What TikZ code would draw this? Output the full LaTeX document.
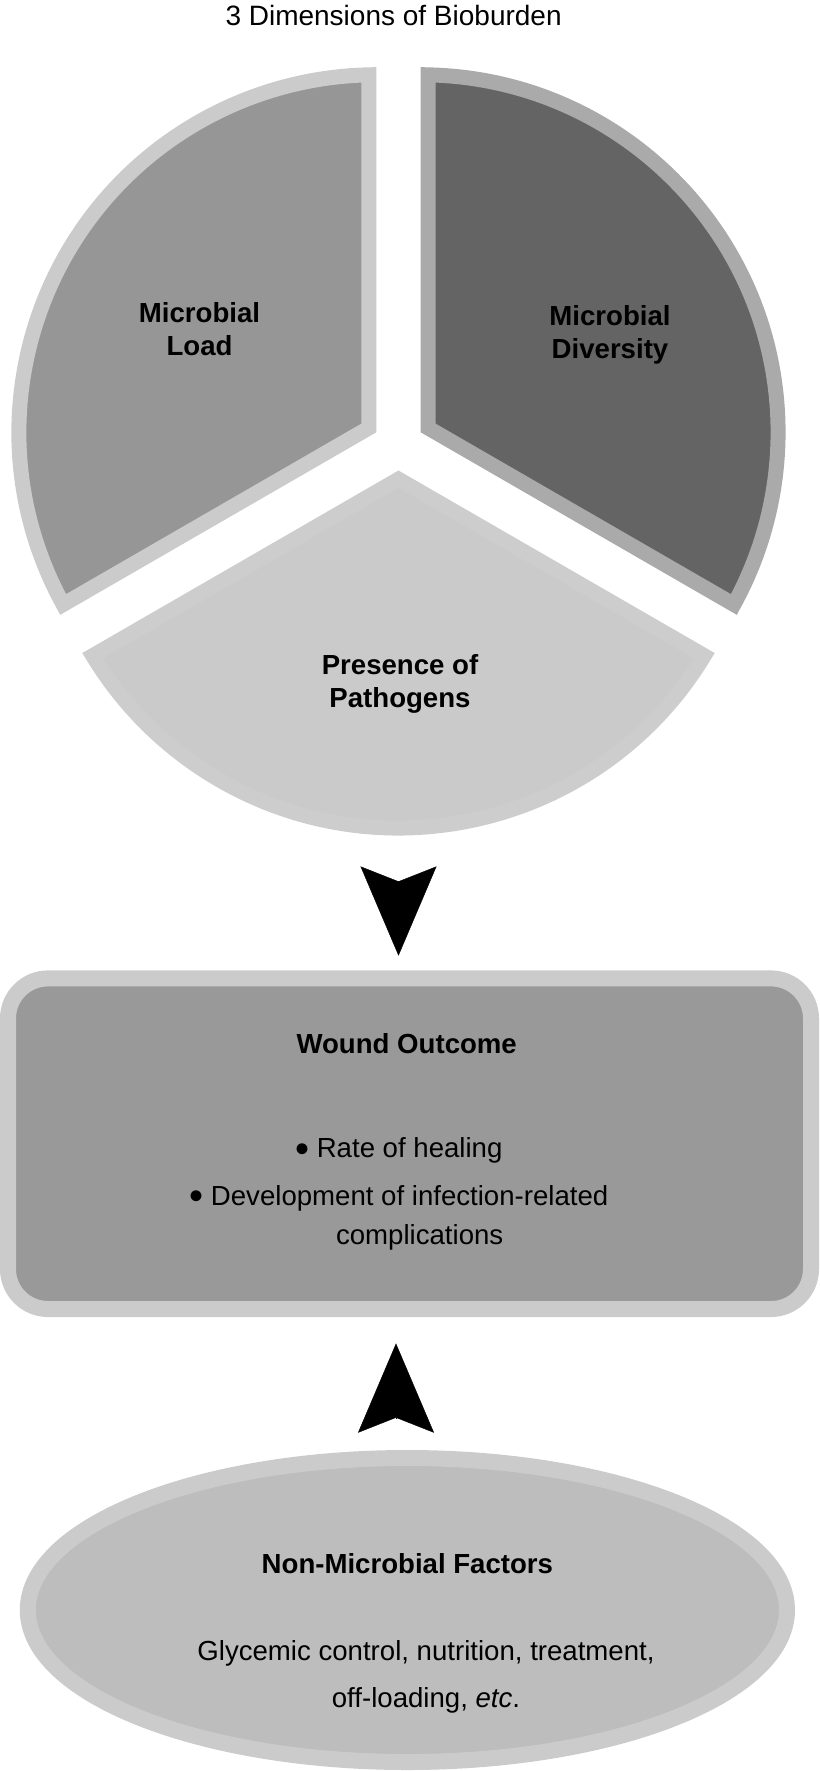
\documentclass[tikz,border=0pt]{standalone}
\usepackage{fontspec}
\setmainfont{Liberation Sans}
\usetikzlibrary{arrows.meta,positioning,calc,shapes.geometric}
\definecolor{loadfill}{HTML}{969696}
\definecolor{loadedge}{HTML}{CBCBCB}
\definecolor{divfill}{HTML}{646464}
\definecolor{divedge}{HTML}{AAAAAA}
\definecolor{pathfill}{HTML}{CACACA}
\definecolor{pathedge}{HTML}{CDCDCD}
\definecolor{boxfill}{HTML}{999999}
\definecolor{ovalfill}{HTML}{BDBDBD}
\definecolor{rim}{HTML}{CBCBCB}
\newcommand{\blt}{\raisebox{-0.16em}{\scalebox{1.45}{\textbullet}}}

\begin{document}
\begin{tikzpicture}[x=0.5pt, y=0.5pt,
  lbl/.style={font=\fontsize{13.8pt}{16.4pt}\selectfont\bfseries, align=center, inner sep=0pt},
  txt/.style={font=\fontsize{13.8pt}{16.4pt}\selectfont, align=center, inner sep=0pt},
  sector/.style={line width=7.5pt, miter limit=10},
  box/.style={draw=rim, fill=boxfill, line width=8pt, rounded corners=20pt, minimum width=401.5pt, minimum height=165.3pt, inner sep=0pt},
  oval/.style={ellipse, draw=rim, fill=ovalfill, line width=8pt, minimum width=379.6pt, minimum height=152pt, inner sep=0pt},
  arr/.style={-{Stealth[length=44.65pt, width=38pt, inset=7.5pt]}, line width=0.2pt, shorten <=7.5pt}]
\useasboundingbox (0,0) rectangle (819,-1771);

% pie of the three dimensions
\coordinate (c) at (398.5,-445);
\foreach \ang/\fc/\ec in {150/loadfill/loadedge, 30/divfill/divedge, 270/pathfill/pathedge}
  \draw[sector, fill=\fc, draw=\ec] ($(c)+(\ang:34.16)$) -- ($(c)+(\ang:25.5)+(\ang+58.8:357.5)$)
    arc[start angle=\ang+58.8, end angle=\ang-58.8, radius=357.5] -- cycle;

\node[txt, anchor=base, font=\fontsize{14pt}{16.4pt}\selectfont] (ttl) at (393.6,-26) {3 Dimensions of Bioburden};
\node[lbl] (ld) at (199.5,-328.8) {Microbial\\Load};
\node[lbl] (dv) at (610,-334.7) {Microbial\\Diversity};
\node[lbl] (pp) at (400,-684) {Presence of\\Pathogens};

% outcome box and the other factors
\node[box] (wo) at (409.5,-1143.7) {};
\node[lbl] (wt) at (406.7,-1043.8) {Wound Outcome};
\node[txt, font=\fontsize{13.8pt}{19.65pt}\selectfont] (ls) at (398.8,-1194.1)
  {\blt\ Rate of healing\\[4.15pt]\blt\ Development of infection-related\\\hspace*{20.9pt}complications};

\node[oval] (nm) at (407.4,-1610) {};
\node[lbl] (nf) at (407.4,-1563.7) {Non-Microbial Factors};
\node[txt, font=\fontsize{13.8pt}{23.8pt}\selectfont] (gc) at (426,-1676.8)
  {Glycemic control, nutrition, treatment,\\off-loading, \textit{etc}.};

\coordinate (pie bottom) at (398.5,-866.4);
\coordinate (nm top) at (396,-1432.7);
\draw[arr, shorten >=7.35pt] (pie bottom) -- (pie bottom |- wo.north);
\draw[arr, shorten >=13.2pt] (nm top) -- (nm top |- wo.south);
\end{tikzpicture}
\end{document}
